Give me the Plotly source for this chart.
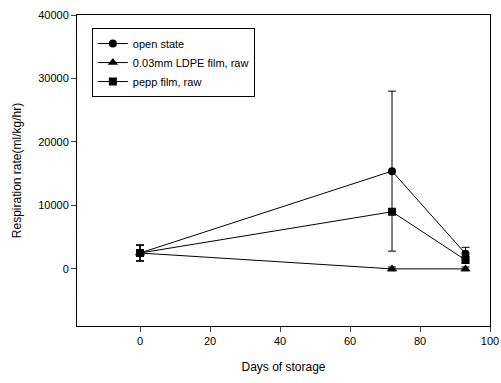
import plotly.graph_objects as go

days = [0, 72, 93]
open_state = [2500, 15400, 2400]
open_err = [1250, 12600, 1000]
ldpe = [2500, 0, 0]
ldpe_err = [1250, 300, 300]
pepp = [2500, 9000, 1400]
pepp_err = [1250, 300, 500]

x_ticks = [0, 20, 40, 60, 80, 100]
y_ticks = [0, 10000, 20000, 30000, 40000]
y_tick_labels = [str(v) for v in y_ticks]

fig = go.Figure()
series = [
    ("open state", open_state, open_err, "circle", 8),
    ("0.03mm LDPE film, raw", ldpe, ldpe_err, "triangle-up", 9),
    ("pepp film, raw", pepp, pepp_err, "square", 8),
]
for name, ys, err, sym, sz in series:
    fig.add_trace(go.Scatter(
        x=days, y=ys, name=name, mode="lines+markers",
        line=dict(color="black", width=1),
        marker=dict(symbol=sym, size=sz, color="black"),
        error_y=dict(type="data", array=err, visible=True, color="black", thickness=1, width=4),
    ))

font = "Liberation Sans, Arial, sans-serif"
fig.update_layout(
    width=501, height=383,
    margin=dict(l=77, r=11, t=15, b=57, autoexpand=False),
    paper_bgcolor="white", plot_bgcolor="white",
    font=dict(family=font, size=11, color="black"),
    showlegend=True,
    legend=dict(x=0.036, y=0.958, xanchor="left", yanchor="top",
                bordercolor="black", borderwidth=1, bgcolor="white",
                font=dict(size=11, color="black"), tracegroupgap=0, itemwidth=30),
    xaxis=dict(range=[-18, 100], tickvals=x_ticks, ticks="outside", ticklen=5,
               tickfont=dict(size=11, color="black"), automargin=False,
               showline=True, linecolor="black", linewidth=1, mirror=True,
               showgrid=False, zeroline=False,
               title=dict(text="Days of storage", font=dict(size=12, color="black"), standoff=16)),
    yaxis=dict(range=[-9000, 40000], tickvals=y_ticks, ticktext=y_tick_labels,
               ticks="outside", ticklen=5, automargin=False,
               tickfont=dict(size=11, color="black"),
               showline=True, linecolor="black", linewidth=1, mirror=True,
               showgrid=False, zeroline=False,
               title=dict(text="Respiration rate(ml/kg/hr)", font=dict(size=12, color="black"), standoff=14)),
)
fig.write_html("out.html")
